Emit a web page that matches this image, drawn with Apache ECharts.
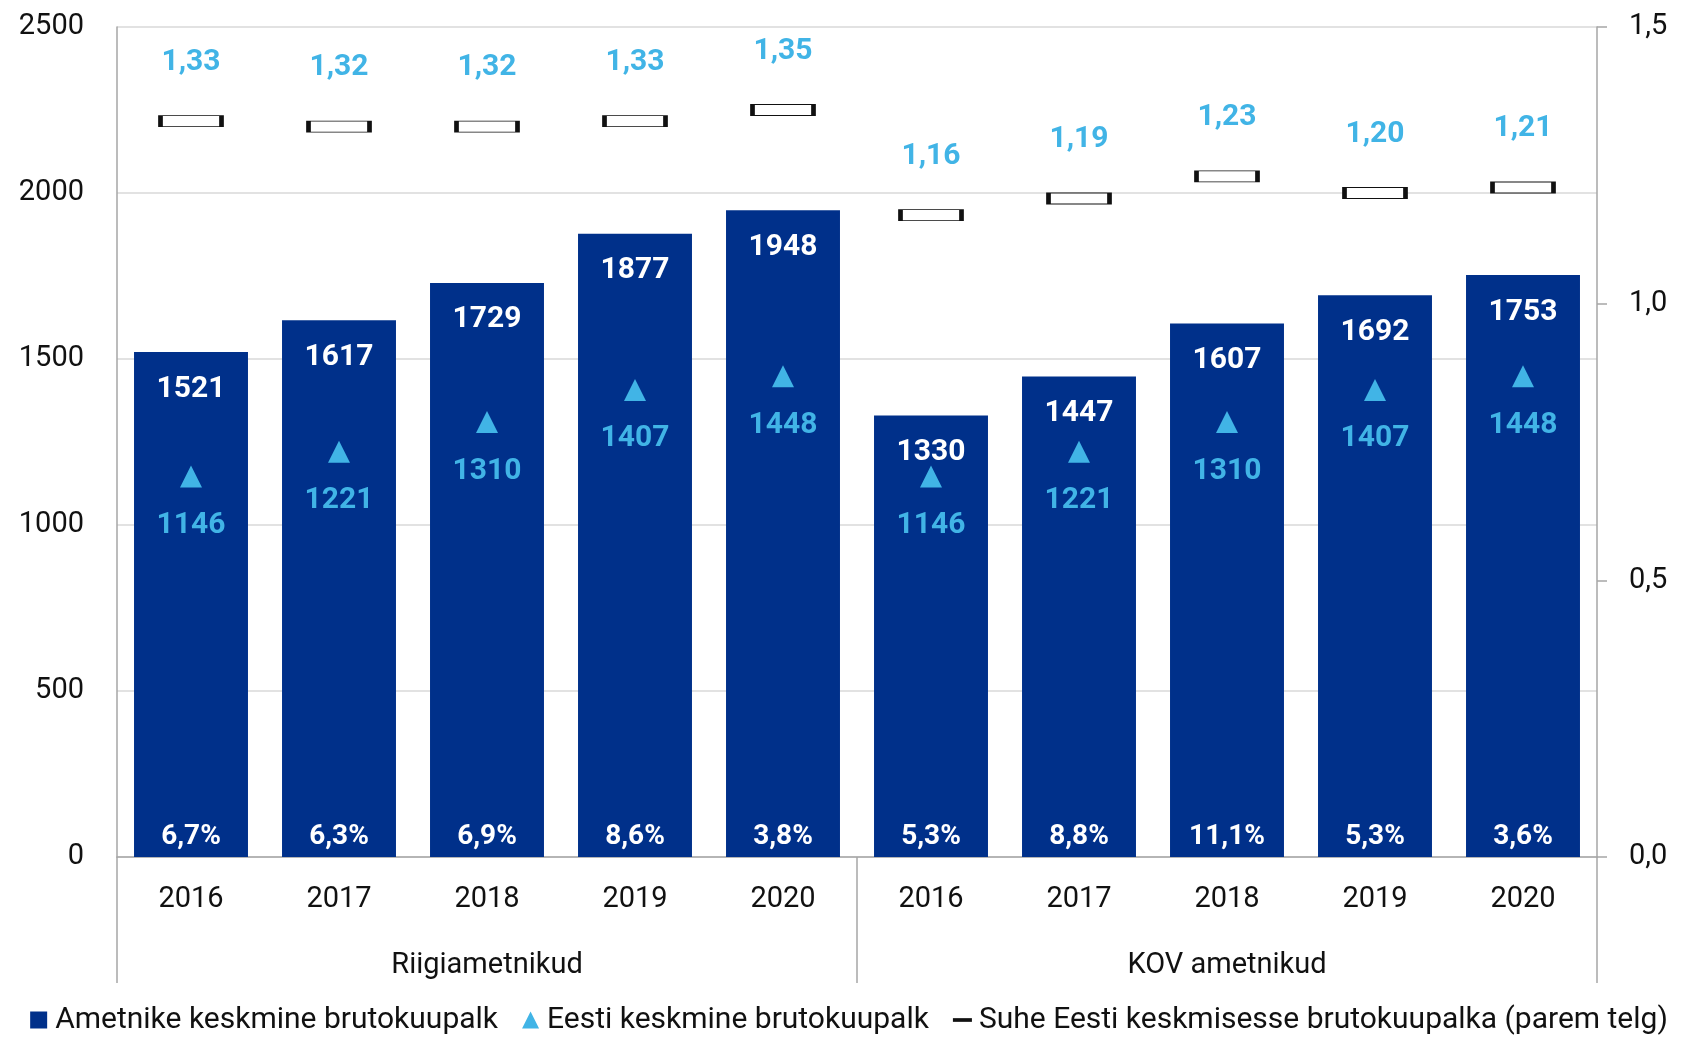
<!DOCTYPE html>
<html>
<head>
<meta charset="utf-8">
<script src="https://cdn.jsdelivr.net/npm/echarts@6/dist/echarts.min.js"></script>
<style>
  html, body { margin: 0; padding: 0; background: #fff; }
  #chart { width: 1698px; height: 1046px; }
</style>
</head>
<body>
<div id="chart"></div>
<script>
// andmed
const years = ['2016', '2017', '2018', '2019', '2020', '2016', '2017', '2018', '2019', '2020'];
const groups = ['Riigiametnikud', 'KOV ametnikud'];
const ametnikePalk = [1521, 1617, 1729, 1877, 1948, 1330, 1447, 1607, 1692, 1753];
const eestiPalk = [1146, 1221, 1310, 1407, 1448, 1146, 1221, 1310, 1407, 1448];
const suhe = [1.33, 1.32, 1.32, 1.33, 1.35, 1.16, 1.19, 1.23, 1.20, 1.21];
const kasv = ['6,7%', '6,3%', '6,9%', '8,6%', '3,8%', '5,3%', '8,8%', '11,1%', '5,3%', '3,6%'];

const FONT = 'Roboto';
const DARK = '#00308a';
const LIGHT = '#41b4e6';
const AXIS = '#a6a6a6';

const chart = echarts.init(document.getElementById('chart'));

const option = {
  backgroundColor: '#fff',
  textStyle: { fontFamily: FONT },
  animation: false,
  grid: { left: 117, right: 101, top: 27, bottom: 189 },
  legend: {
    bottom: 6,
    left: 'center',
    itemWidth: 17,
    itemHeight: 17,
    itemGap: 24,
    textStyle: { fontSize: 30, color: '#111', fontFamily: FONT, padding: [0, 0, 0, 3] },
    data: [
      { name: 'Ametnike keskmine brutokuupalk', icon: 'rect' },
      { name: 'Eesti keskmine brutokuupalk', icon: 'triangle' },
      { name: 'Suhe Eesti keskmisesse brutokuupalka (parem telg)', icon: 'path://M0,0H20V2H0Z' }
    ]
  },
  xAxis: [
    {
      type: 'category',
      data: years,
      axisLine: { lineStyle: { color: AXIS, width: 1.5 } },
      axisTick: { show: false },
      axisLabel: { fontSize: 29, color: '#111', margin: 28, interval: 0 }
    },
    {
      type: 'category',
      data: groups,
      position: 'bottom',
      axisLine: { show: false },
      axisTick: { show: true, length: 126, lineStyle: { color: AXIS, width: 1.5 } },
      axisLabel: { fontSize: 29, color: '#111', margin: 94 }
    }
  ],
  yAxis: [
    {
      type: 'value',
      min: 0,
      max: 2500,
      interval: 500,
      axisLine: { show: true, lineStyle: { color: AXIS, width: 1.5 } },
      axisTick: { show: false },
      splitLine: { lineStyle: { color: '#d9d9d9', width: 1.5 } },
      axisLabel: { fontSize: 29, color: '#111', margin: 33, formatter: v => String(v) }
    },
    {
      type: 'value',
      min: 0,
      max: 1.5,
      interval: 0.5,
      axisLine: { show: true, lineStyle: { color: AXIS, width: 1.5 } },
      axisTick: { show: true, length: 10, lineStyle: { color: AXIS, width: 1.5 } },
      splitLine: { show: false },
      axisLabel: {
        fontSize: 29, color: '#111', margin: 32,
        formatter: v => v.toFixed(1).replace('.', ',')
      }
    }
  ],
  series: [
    {
      name: 'Ametnike keskmine brutokuupalk',
      type: 'bar',
      data: ametnikePalk,
      barCategoryGap: '23%',
      itemStyle: { color: DARK },
      label: {
        show: true,
        position: 'insideTop',
        distance: 22,
        fontSize: 30,
        fontWeight: 'bold',
        color: '#fff'
      }
    },
    {
      // kasvuprotsendid tulpade alaosas
      name: 'kasv',
      type: 'bar',
      data: ametnikePalk,
      barGap: '-100%',
      barCategoryGap: '23%',
      itemStyle: { color: 'transparent' },
      silent: true,
      label: {
        show: true,
        position: 'insideBottom',
        distance: 6,
        fontSize: 28,
        fontWeight: 'bold',
        color: '#fff',
        formatter: p => kasv[p.dataIndex]
      }
    },
    {
      name: 'Eesti keskmine brutokuupalk',
      type: 'scatter',
      data: eestiPalk,
      symbol: 'triangle',
      symbolSize: 22,
      itemStyle: { color: LIGHT, opacity: 1 },
      z: 5,
      label: {
        show: true,
        position: 'bottom',
        distance: 23,
        fontSize: 30,
        fontWeight: 'bold',
        color: LIGHT
      }
    },
    {
      name: 'Suhe Eesti keskmisesse brutokuupalka (parem telg)',
      type: 'scatter',
      yAxisIndex: 1,
      data: suhe,
      symbol: 'rect',
      symbolSize: [61, 11],
      itemStyle: { color: '#fff', borderColor: '#111', borderWidth: 2, opacity: 1 },
      z: 5,
      label: {
        show: true,
        position: 'top',
        distance: 38,
        fontSize: 30,
        fontWeight: 'bold',
        color: LIGHT,
        formatter: p => p.value.toFixed(2).replace('.', ',')
      }
    }
  ]
};

chart.setOption(option);
</script>
</body>
</html>
